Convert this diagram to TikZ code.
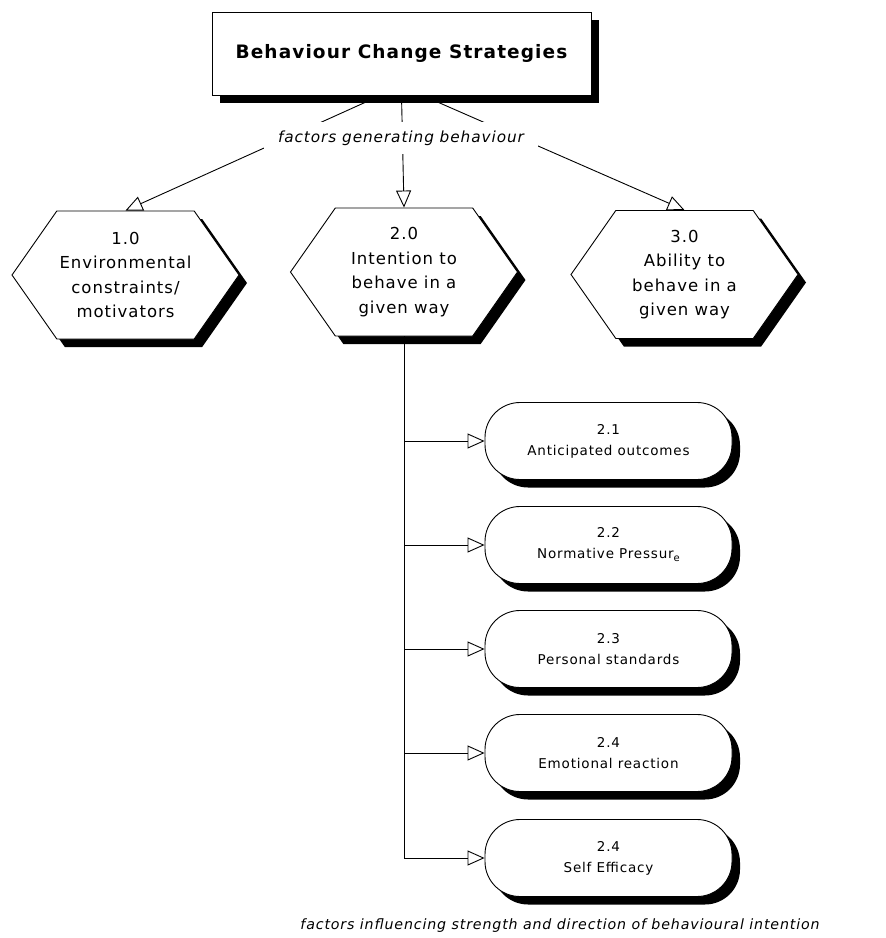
\documentclass[tikz,border=0pt]{standalone}
\usepackage{fontspec}
\setmainfont{DejaVu Sans}[LetterSpace=6]
\usetikzlibrary{arrows.meta,shapes.symbols,shadows}

\begin{document}
\begin{tikzpicture}[
    x=1pt, y=-1pt, line width=0.9pt,
    boxshadow/.style={drop shadow={shadow xshift=8pt, shadow yshift=-8pt, opacity=1, fill=black}},
    titlebox/.style={rectangle, draw, fill=white, boxshadow, minimum width=379pt, minimum height=83pt, font=\fontsize{18.5}{22}\selectfont\bfseries},
    factor/.style={signal, signal to=west and east, signal pointer angle=110, draw, fill=white, boxshadow, minimum width=227pt, minimum height=128pt, inner sep=0pt, align=center, font=\fontsize{16.5}{24.5}\selectfont},
    subfactor/.style={rectangle, rounded corners=35pt, draw, fill=white, boxshadow, minimum width=247pt, minimum height=77pt, align=center, font=\fontsize{13.5}{21}\selectfont},
    notetext/.style={font=\fontsize{15.3}{18}\selectfont\itshape},
    link/.style={-{Triangle[open, length=17pt, width=15pt]}}
]
\useasboundingbox (0,0) rectangle (886,938);

% Top: the strategy
\node[titlebox] (strategy) at (401.5,53.5) {Behaviour Change Strategies};

% Middle: factors generating behaviour
\node[factor] (env) at (125.5,275) {1.0\\Environmental\\constraints/\\motivators};
\node[factor] (intent) at (404,272) {2.0\\Intention to\\behave in a\\given way};
\node[factor] (ability) at (684.5,274.5) {3.0\\Ability to\\behave in a\\given way};

% Bottom: factors of intention
\node[subfactor] (outcome) at (608.5,441) {2.1\\Anticipated outcomes};
\node[subfactor] (norm) at (608.5,545) {2.2\\Normative Pressur{\raisebox{-0.4ex}{\fontsize{10}{10}\selectfont e}}};
\node[subfactor] (standard) at (608.5,649) {2.3\\Personal standards};
\node[subfactor] (emotion) at (608.5,753) {2.4\\Emotional reaction};
\node[subfactor] (efficacy) at (608.5,858) {2.4\\Self Efficacy};

% Arrows
\draw[link] ([xshift=-21pt]strategy.south) -- (env.north);
\draw[link] (strategy.south) -- (intent.north);
\draw[link] ([xshift=21pt]strategy.south) -- (ability.north);

\foreach \sub in {outcome, norm, standard, emotion, efficacy}
    \draw[link] (intent.south) |- (\sub.west);

% Labels
\node[notetext, fill=white, inner xsep=14pt, inner ysep=9pt] (generating) at (401,138) {factors generating behaviour};
\node[notetext, font=\fontsize{14.2}{16}\selectfont\itshape] (influencing) at (560,926) {factors influencing strength and direction of behavioural intention};

\end{tikzpicture}
\end{document}
